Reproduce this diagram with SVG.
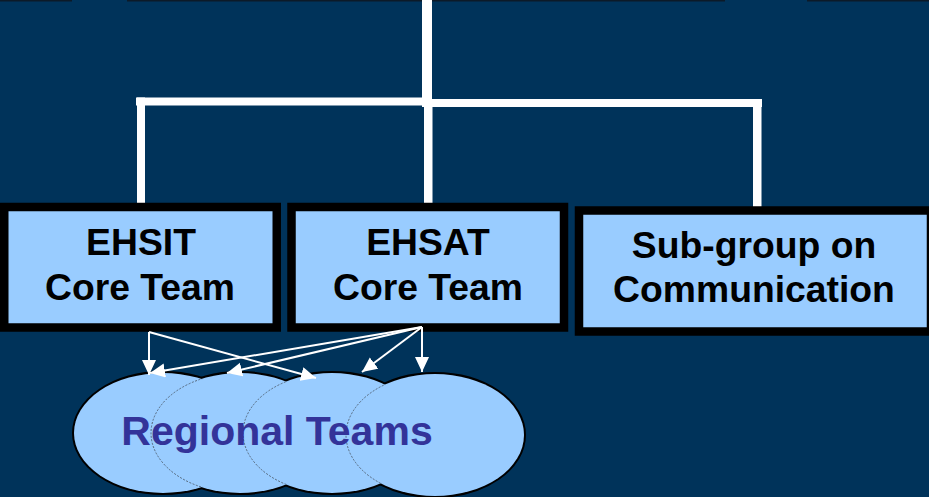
<svg xmlns="http://www.w3.org/2000/svg" width="929" height="497" viewBox="0 0 929 497">
<style>
.box{fill:#99ccff;stroke:#000;stroke-width:8.5}
.lbl{font-family:"Liberation Sans",Arial,sans-serif;font-weight:bold;font-size:37.3px;fill:#000;text-anchor:middle}
.reg{font-family:"Liberation Sans",Arial,sans-serif;font-weight:bold;font-size:41px;fill:#333399;text-anchor:middle}
.wire{fill:#fff}
.arr{stroke:#fff;stroke-width:2;fill:none;marker-end:url(#ah)}
.eo{fill:none;stroke:#000;stroke-width:4}
.ef{fill:#99ccff}
.seam{fill:none;stroke:#55677a;stroke-width:1;stroke-dasharray:2 1.5}
</style>
<defs>
<marker id="ah" markerUnits="userSpaceOnUse" markerWidth="16" markerHeight="15" refX="15" refY="7" orient="auto">
<path d="M0,0 L15,7 L0,14 z" fill="#fff"/>
</marker>
<clipPath id="c1"><ellipse cx="163" cy="433" rx="89" ry="60"/></clipPath>
<clipPath id="c2"><ellipse cx="240" cy="433" rx="89" ry="60"/></clipPath>
<clipPath id="c3"><ellipse cx="332" cy="433" rx="89" ry="60"/></clipPath>
</defs>
<rect x="0" y="0" width="929" height="497" fill="#00335a"/>
<g id="topedge" fill="#0c1a28">
<rect x="0" y="0" width="72" height="1.5"/>
<rect x="127" y="0" width="295" height="1.5"/>
<rect x="432" y="0" width="293" height="1.5"/>
<rect x="807" y="0" width="122" height="1.5"/>
</g>
<g id="connectors">
<rect class="wire" x="422" y="0" width="10" height="106"/>
<rect class="wire" x="136" y="97.5" width="296" height="8"/>
<rect class="wire" x="422" y="99" width="340" height="8"/>
<rect class="wire" x="137" y="97.5" width="8" height="106"/>
<rect class="wire" x="424" y="100" width="8.5" height="103"/>
<rect class="wire" x="753" y="99" width="8.5" height="108"/>
</g>
<g id="ehsit">
<rect class="box" x="4.25" y="207" width="272.5" height="120.5"/>
<text class="lbl" x="141" y="255">EHSIT</text>
<text class="lbl" x="140" y="300">Core Team</text>
</g>
<g id="ehsat">
<rect class="box" x="291.5" y="207" width="272.5" height="120.5"/>
<text class="lbl" x="428" y="255">EHSAT</text>
<text class="lbl" x="428" y="300">Core Team</text>
</g>
<g id="subgroup">
<rect class="box" x="579" y="210.5" width="352" height="121"/>
<text class="lbl" x="754" y="258">Sub-group on</text>
<text class="lbl" x="754" y="302">Communication</text>
</g>
<g id="regional">
<ellipse class="eo" cx="163" cy="433" rx="89" ry="60"/>
<ellipse class="eo" cx="240" cy="433" rx="89" ry="60"/>
<ellipse class="eo" cx="332" cy="433" rx="89" ry="60"/>
<ellipse class="eo" cx="435" cy="435" rx="89" ry="61"/>
<ellipse class="ef" cx="163" cy="433" rx="89" ry="60"/>
<ellipse class="ef" cx="240" cy="433" rx="89" ry="60"/>
<ellipse class="ef" cx="332" cy="433" rx="89" ry="60"/>
<ellipse class="ef" cx="435" cy="435" rx="89" ry="61"/>
<ellipse class="seam" clip-path="url(#c1)" cx="240" cy="433" rx="89" ry="60"/>
<ellipse class="seam" clip-path="url(#c2)" cx="332" cy="433" rx="89" ry="60"/>
<ellipse class="seam" clip-path="url(#c3)" cx="435" cy="435" rx="89" ry="61"/>
<text class="reg" x="277" y="445">Regional Teams</text>
</g>
<g id="arrows">
<line class="arr" x1="149" y1="332" x2="149" y2="375"/>
<line class="arr" x1="149" y1="332" x2="316" y2="378"/>
<line class="arr" x1="422" y1="327" x2="150" y2="373"/>
<line class="arr" x1="422" y1="327" x2="227" y2="373"/>
<line class="arr" x1="422" y1="327" x2="362" y2="372"/>
<line class="arr" x1="422" y1="327" x2="422" y2="372"/>
</g>
</svg>
